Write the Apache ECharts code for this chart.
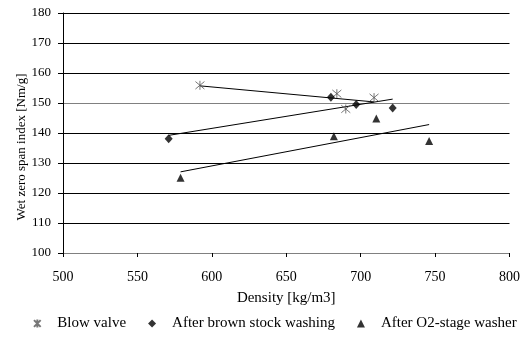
<!DOCTYPE html>
<html>
<head>
<meta charset="utf-8">
<script src="https://cdn.jsdelivr.net/npm/echarts@6/dist/echarts.min.js"></script>
<style>
  html, body { margin: 0; padding: 0; background: #fff; }
  #chart { width: 523px; height: 338px; }
</style>
</head>
<body>
<div id="chart"></div>
<script>
// Wet zero span index versus sheet density at three sampling points
const seriesNames = ['Blow valve', 'After brown stock washing', 'After O2-stage washer'];

const blowDensity = [592, 684, 690, 709];
const blowZeroSpan = [155.9, 153.1, 148.0, 151.8];

const brownDensity = [571, 680, 697, 721.5];
const brownZeroSpan = [138.1, 151.9, 149.5, 148.3];

const o2Density = [579, 682, 710.5, 746];
const o2ZeroSpan = [125.1, 138.9, 144.8, 137.3];

const xTicks = { min: 500, max: 800, step: 50 };
const yTicks = { min: 100, max: 180, step: 10 };

const FONT = '"Liberation Serif", "DejaVu Serif", serif';
const starPath = 'path://M0,0L10,10M10,0L0,10M5,-1L5,11';

function pairs(xs, ys) {
  return xs.map((x, i) => [x, ys[i]]);
}

// Least-squares linear trend over the span of the points
function trend(xs, ys) {
  const n = xs.length;
  const mx = xs.reduce((a, b) => a + b, 0) / n;
  const my = ys.reduce((a, b) => a + b, 0) / n;
  let sxy = 0, sxx = 0;
  for (let i = 0; i < n; i++) {
    sxy += (xs[i] - mx) * (ys[i] - my);
    sxx += (xs[i] - mx) * (xs[i] - mx);
  }
  const k = sxy / sxx;
  const x0 = Math.min(...xs), x1 = Math.max(...xs);
  return [[x0, my + k * (x0 - mx)], [x1, my + k * (x1 - mx)]];
}

function trendSeries(xs, ys) {
  return {
    type: 'line',
    data: trend(xs, ys),
    symbol: 'none',
    silent: true,
    lineStyle: { color: '#000', width: 1 },
    z: 1
  };
}

const chart = echarts.init(document.getElementById('chart'), null, { renderer: 'canvas' });

chart.setOption({
  animation: false,
  backgroundColor: '#fff',
  textStyle: { fontFamily: FONT },
  grid: { left: 63, right: 12, top: 13, bottom: 85, containLabel: false },
  xAxis: {
    type: 'value',
    min: xTicks.min, max: xTicks.max, interval: xTicks.step,
    name: 'Density [kg/m3]',
    nameLocation: 'middle',
    nameGap: 38,
    nameTextStyle: { fontFamily: FONT, fontSize: 15, color: '#000' },
    axisLine: { lineStyle: { color: '#808080', width: 1 } },
    axisTick: { length: 4, lineStyle: { color: '#000' } },
    axisLabel: { fontFamily: FONT, fontSize: 14, color: '#000', margin: 17 },
    splitLine: { show: false }
  },
  yAxis: {
    type: 'value',
    min: yTicks.min, max: yTicks.max, interval: yTicks.step,
    axisLine: { show: true, lineStyle: { color: '#000', width: 1 } },
    axisTick: { show: true, length: 5, lineStyle: { color: '#000' } },
    axisLabel: { fontFamily: FONT, fontSize: 13, color: '#000', margin: 12 },
    splitLine: {
      show: true,
      lineStyle: {
        color: ['#000', '#000', '#000', '#000', '#000', '#808080', '#000', '#000', '#000'],
        width: 1
      }
    }
  },
  graphic: [{
    type: 'text',
    x: 22, y: 147,
    rotation: Math.PI / 2,
    style: {
      text: 'Wet zero span index [Nm/g]',
      fontFamily: FONT, fontSize: 13, fill: '#000',
      textAlign: 'center', textVerticalAlign: 'middle'
    }
  }],
  legend: {
    data: seriesNames,
    bottom: 2,
    left: 28,
    itemWidth: 8,
    itemHeight: 8,
    itemGap: 22,
    textStyle: { fontFamily: FONT, fontSize: 15, color: '#000', padding: [0, 0, 0, 11] }
  },
  series: [
    {
      name: seriesNames[0],
      type: 'scatter',
      data: pairs(blowDensity, blowZeroSpan),
      symbol: starPath,
      symbolSize: 9,
      itemStyle: { color: 'rgba(0,0,0,0)', borderColor: '#555', borderWidth: 1 },
      z: 3
    },
    {
      name: seriesNames[1],
      type: 'scatter',
      data: pairs(brownDensity, brownZeroSpan),
      symbol: 'diamond',
      symbolSize: [8, 9],
      itemStyle: { color: '#000' },
      z: 3
    },
    {
      name: seriesNames[2],
      type: 'scatter',
      data: pairs(o2Density, o2ZeroSpan),
      symbol: 'triangle',
      symbolSize: [8, 8],
      itemStyle: { color: '#000' },
      z: 3
    },
    trendSeries(blowDensity, blowZeroSpan),
    trendSeries(brownDensity, brownZeroSpan),
    trendSeries(o2Density, o2ZeroSpan)
  ]
});
</script>
</body>
</html>
